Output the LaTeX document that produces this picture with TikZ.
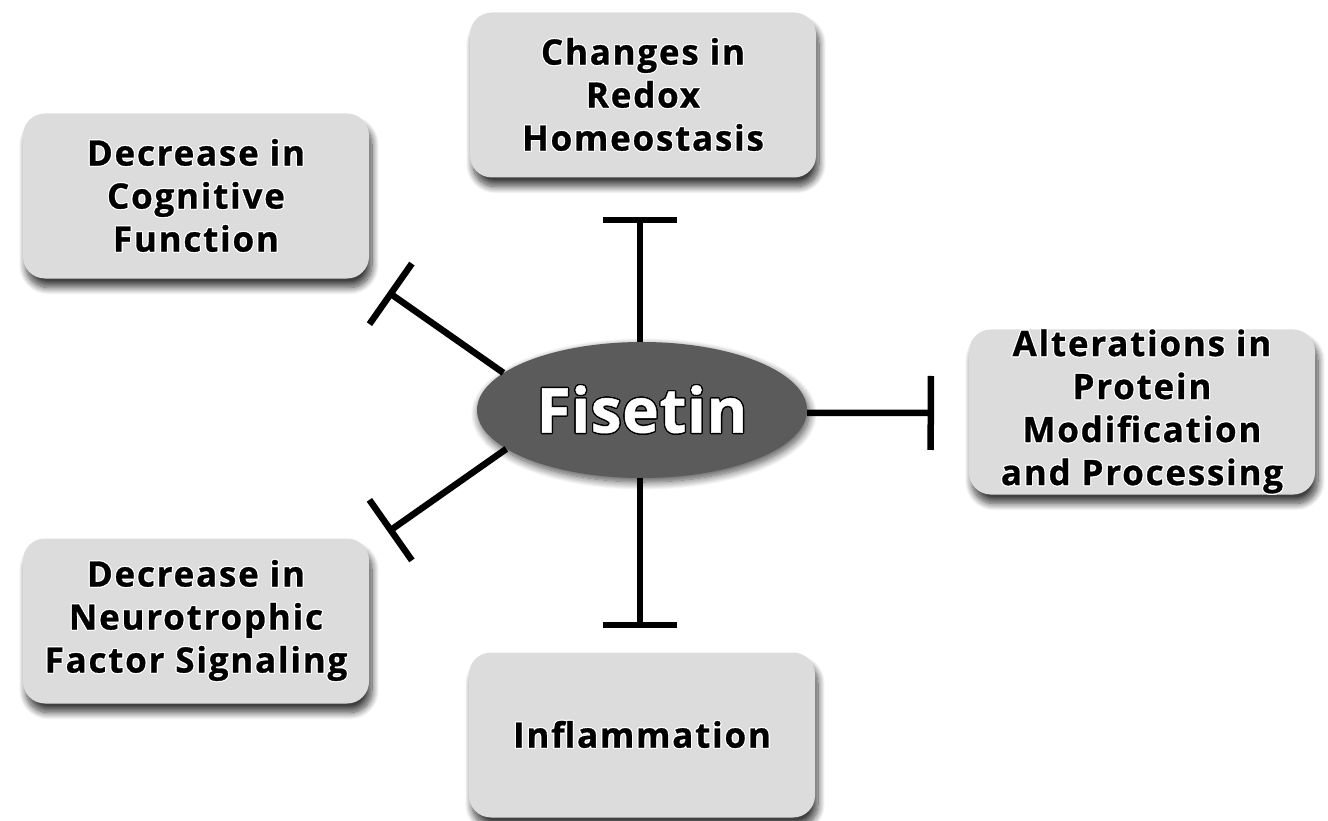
\documentclass[tikz,border=0pt]{standalone}
\usepackage{fontspec}
\setmainfont{Open Sans}[BoldFeatures={FakeBold=0.8,LetterSpace=5}]
\newfontfamily\fisfont{Open Sans}[BoldFeatures={FakeBold=0.8,LetterSpace=1}]
\usepackage{contour}
\usetikzlibrary{arrows.meta,shapes.geometric,shadows.blur}
\definecolor{boxgray}{HTML}{DCDCDC}
\definecolor{fisgray}{HTML}{5B5B5B}
\newcommand{\wl}[1]{\contour{white}{#1}}
\tikzset{
  box/.style={rounded corners=22pt, minimum width=346pt, minimum height=165pt,
    fill=boxgray, align=center, inner sep=0pt,
    font=\fontsize{35}{43}\selectfont\bfseries\contourlength{1.1pt},
    blur shadow={shadow xshift=3pt, shadow yshift=-9pt, shadow blur steps=12, shadow blur radius=7pt, shadow opacity=75}},
  fis/.style={ellipse, minimum width=330pt, minimum height=136pt, inner sep=0pt,
    fill=fisgray, text=white, font=\fisfont\fontsize{62}{62}\selectfont\bfseries\contourlength{1.3pt},
    blur shadow={shadow xshift=2pt, shadow yshift=-4pt, shadow blur steps=12, shadow blur radius=8pt, shadow opacity=70}},
  inh/.style={line width=6.5pt, -{Bar[width=74pt]}}
}
\begin{document}
\begin{tikzpicture}[x=1pt,y=-1pt]
\useasboundingbox (0,0) rectangle (1328,821);
\node[box] (redox) at (643,95) {\wl{Changes in}\\\wl{Redox}\\\wl{Homeostasis}};
\node[box] (cog) at (196,196) {\wl{Decrease in}\\\wl{Cognitive}\\\wl{Function}};
\node[box] (prot) at (1142,412) {\wl{Alterations in}\\\wl{Protein}\\\wl{Modification}\\\wl{and Processing}};
\node[box] (neuro) at (196,621) {\wl{Decrease in}\\\wl{Neurotrophic}\\\wl{Factor Signaling}};
\node[box] (infl) at (642,735) {\wl{Inflammation}};
\node[fis] (fisetin) at (642,410) {\contour{black}{Fisetin}};
\coordinate (tTop) at (640,217);
\coordinate (tBot) at (640,628);
\coordinate (tRight) at (934,413);
\coordinate (tUL) at (388,292);
\coordinate (tLL) at (388,532);
\draw[inh] (fisetin.north) ++(-2,0) -- (tTop);
\draw[inh] (fisetin.south) ++(-2,0) -- (tBot);
\draw[inh] (fisetin.-1) -- (tRight);
\draw[inh] (fisetin.165) -- (tUL);
\draw[inh] (fisetin.196) -- (tLL);
\end{tikzpicture}
\end{document}
